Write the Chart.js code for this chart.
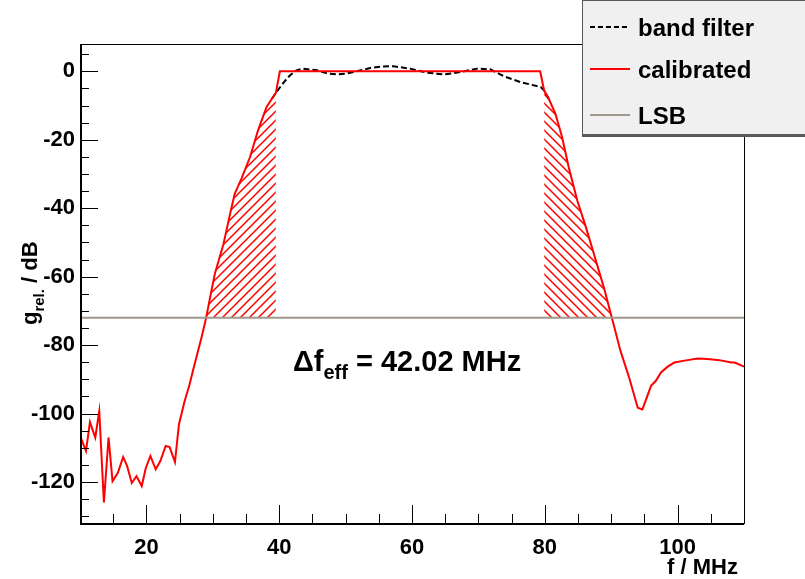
<!DOCTYPE html>
<html>
<head>
<meta charset="utf-8">
<script src="https://cdn.jsdelivr.net/npm/chart.js@4.4.0/dist/chart.umd.min.js"></script>
<style>
html, body { margin: 0; padding: 0; background: #fff; }
#wrap { width: 805px; height: 579px; position: relative; }
</style>
</head>
<body>
<div id="wrap"><canvas id="chart" width="805" height="579"></canvas></div>
<script>
// calibrated response (f / MHz, gain / dB)
const calFreq = [10.1, 10.9, 11.5, 12.3, 12.9, 13.6, 14.3, 14.9, 15.7, 16.5, 17.1, 17.8, 18.5, 19.3, 19.9,
    20.6, 21.4, 22.1, 22.9, 23.5, 24.3, 24.9, 25.7, 26.5, 27.0, 28.3, 29.0, 29.5, 30.3, 31.6, 32.6, 33.3,
    34.3, 35.6, 36.8, 38.1, 38.9, 39.5, 40.1, 79.3, 79.9, 80.6, 81.6, 82.6, 83.6, 84.9, 86.2, 87.4, 88.9,
    90.1, 91.4, 92.7, 94.0, 94.7, 96.0, 96.7, 97.5, 98.5, 99.5, 101.5, 103.0, 104.5, 106.3, 108.1, 108.6, 110];
const calGain = [-107, -111, -102.5, -107, -99.3, -126, -107, -119.8, -117.3, -112.7, -115.4, -120.3, -118.3, -121.2, -116,
    -112.4, -116.3, -113.9, -109.5, -109.8, -114.2, -103.2, -96.8, -91.5, -87.6, -77.8, -72, -67, -59.2, -50.5, -41.7, -35.8,
    -31.4, -25.1, -17.3, -10.4, -8, -6.3, 0, 0, -5.6, -8, -12.4, -19.2, -28, -37.8, -45.6, -53.4, -63.2,
    -72, -81.7, -89.5, -98.3, -98.8, -91.9, -90.5, -88, -86.3, -85.1, -84.4, -83.9, -84.1, -84.4, -85.1, -85.1, -86.3];

// band filter (passband ripple, elsewhere hidden under the calibrated curve)
const bandFreq = [38.9, 39.5, 40.6, 41.6, 42.6, 43.6, 45.7, 47.2, 48.7, 50.0, 51.2, 53.7, 55.5, 57.2, 59.7,
    62.3, 64.8, 67.3, 69.8, 71.8, 73.8, 76.3, 79.4, 79.9, 80.6];
const bandGain = [-8, -6.3, -3.4, -1.2, 0.3, 0.8, 0.3, -0.6, -0.9, -0.7, -0.2, 1.0, 1.4, 1.5, 0.8,
    -0.4, -0.9, -0.2, 0.8, 0.6, -1.4, -3.1, -4.6, -5.6, -8];

const lsbLevel = -72;
const hatchLeft = [29.0, 39.5];
const hatchRight = [79.9, 90.1];

const xTicks = [20, 40, 60, 80, 100];
const yTicks = [0, -20, -40, -60, -80, -100, -120];

const FONT = '"Liberation Sans", Arial, sans-serif';

function toPoints(xs, ys) {
    return xs.map((x, i) => ({ x: x, y: ys[i] }));
}

function hatchPoints(range) {
    return toPoints(calFreq, calGain).filter(p => p.x >= range[0] && p.x <= range[1]);
}

// diagonal hatch pattern, dir 1 = "/", -1 = "\"
function makeHatch(dir) {
    const s = 9;
    const c = document.createElement('canvas');
    c.width = s; c.height = s;
    const g = c.getContext('2d');
    g.strokeStyle = 'rgb(255,0,0)';
    g.lineWidth = 1.5;
    g.beginPath();
    for (let k = -1; k <= 1; k++) {
        if (dir > 0) {
            g.moveTo(k * s - 1, s + 1); g.lineTo(k * s + s + 1, -1);
        } else {
            g.moveTo(k * s - 1, -1); g.lineTo(k * s + s + 1, s + 1);
        }
    }
    g.stroke();
    return g.createPattern(c, 'repeat');
}

// ROOT-like frame, inner ticks, titles and legend
const rootDecor = {
    id: 'rootDecor',
    afterDatasetsDraw(chart) {
        const ctx = chart.ctx;
        const a = chart.chartArea;
        const xs = chart.scales.x, ys = chart.scales.y;
        ctx.save();
        ctx.strokeStyle = '#000';
        ctx.lineWidth = 1;
        ctx.strokeRect(a.left + 0.5, a.top + 0.5, a.right - a.left, a.bottom - a.top);
        ctx.lineWidth = 2;
        ctx.beginPath();
        ctx.moveTo(a.left + 1, a.top); ctx.lineTo(a.left + 1, a.bottom + 1);
        ctx.lineTo(a.right, a.bottom + 1);
        ctx.stroke();
        ctx.lineWidth = 1;
        ctx.beginPath();
        for (let v = -130; v <= 5; v += 5) {
            const y = Math.round(ys.getPixelForValue(v)) + 0.5;
            const len = v % 20 === 0 ? 18 : 9;
            ctx.moveTo(a.left, y); ctx.lineTo(a.left + len, y);
        }
        for (let v = 10; v <= 110; v += 5) {
            const x = Math.round(xs.getPixelForValue(v)) + 0.5;
            const len = v % 20 === 0 ? 18 : 9;
            ctx.moveTo(x, a.bottom); ctx.lineTo(x, a.bottom - len);
        }
        ctx.stroke();
        ctx.restore();
    },
    afterDraw(chart) {
        const ctx = chart.ctx;
        ctx.save();
        ctx.fillStyle = '#000';

        // x title
        ctx.font = 'bold 22px ' + FONT;
        ctx.textAlign = 'right';
        ctx.textBaseline = 'alphabetic';
        ctx.fillText('f / MHz', 738, 574);

        // y title (rotated)
        ctx.save();
        ctx.translate(37, 325);
        ctx.rotate(-Math.PI / 2);
        ctx.textAlign = 'left';
        ctx.font = 'bold 22px ' + FONT;
        ctx.fillText('g', 0, 0);
        let w = ctx.measureText('g').width;
        ctx.font = 'bold 15px ' + FONT;
        ctx.fillText('rel.', w, 7);
        w += ctx.measureText('rel.').width;
        ctx.font = 'bold 22px ' + FONT;
        ctx.fillText(' / dB', w, 0);
        ctx.restore();

        // annotation
        ctx.textAlign = 'left';
        ctx.font = 'bold 29px ' + FONT;
        let x = 293;
        const base = 371;
        ctx.fillText('\u0394f', x, base);
        x += ctx.measureText('\u0394f').width;
        ctx.font = 'bold 20px ' + FONT;
        ctx.fillText('eff', x, base + 8);
        x += ctx.measureText('eff').width;
        ctx.font = 'bold 29px ' + FONT;
        ctx.fillText(' = 42.02 MHz', x, base);

        // legend box
        ctx.fillStyle = '#5a5a5a';
        ctx.fillRect(582, 0, 223, 137);
        ctx.fillStyle = '#f0f0f0';
        ctx.fillRect(583, 1, 222, 133);
        const entries = [
            { label: 'band filter', color: '#000', dash: [5, 3], y: 27 },
            { label: 'calibrated', color: 'rgb(255,0,0)', dash: [], y: 69 },
            { label: 'LSB', color: 'rgb(160,152,140)', dash: [], y: 115 }
        ];
        entries.forEach(e => {
            ctx.strokeStyle = e.color;
            ctx.lineWidth = 2;
            ctx.setLineDash(e.dash);
            ctx.beginPath();
            ctx.moveTo(590, e.y); ctx.lineTo(630, e.y);
            ctx.stroke();
            ctx.setLineDash([]);
            ctx.fillStyle = '#000';
            ctx.font = 'bold 24px ' + FONT;
            ctx.textBaseline = 'middle';
            ctx.fillText(e.label, 638, e.y + 2);
        });
        ctx.restore();
    }
};

const chart = new Chart(document.getElementById('chart'), {
    type: 'line',
    data: {
        datasets: [
            {
                label: 'LSB',
                data: [{ x: 10, y: lsbLevel }, { x: 110, y: lsbLevel }],
                borderColor: 'rgb(160,152,140)',
                borderWidth: 2,
                pointRadius: 0,
                order: 0
            },
            {
                label: 'calibrated',
                data: toPoints(calFreq, calGain),
                borderColor: 'rgb(255,0,0)',
                borderWidth: 2,
                pointRadius: 0,
                tension: 0,
                order: 1
            },
            {
                label: 'band filter',
                data: toPoints(bandFreq, bandGain),
                borderColor: '#000',
                borderWidth: 2,
                borderDash: [6, 3],
                pointRadius: 0,
                tension: 0,
                order: 2
            },
            {
                label: 'hatch left',
                data: hatchPoints(hatchLeft),
                borderWidth: 0,
                borderColor: 'rgba(255,0,0,0)',
                backgroundColor: makeHatch(1),
                fill: { value: lsbLevel },
                pointRadius: 0,
                order: 3
            },
            {
                label: 'hatch right',
                data: hatchPoints(hatchRight),
                borderWidth: 0,
                borderColor: 'rgba(255,0,0,0)',
                backgroundColor: makeHatch(-1),
                fill: { value: lsbLevel },
                pointRadius: 0,
                order: 3
            }
        ]
    },
    options: {
        responsive: false,
        animation: false,
        layout: { padding: { top: 44, right: 61, left: 0, bottom: 0 } },
        plugins: {
            legend: { display: false },
            tooltip: { enabled: false }
        },
        scales: {
            x: {
                type: 'linear',
                min: 10,
                max: 110,
                grid: { display: false, drawTicks: false },
                border: { display: false },
                afterBuildTicks: s => { s.ticks = xTicks.map(v => ({ value: v })); },
                afterFit: s => { s.height = 56; },
                ticks: {
                    padding: 12,
                    color: '#000',
                    maxRotation: 0,
                    font: { family: FONT, size: 22, weight: 'bold' }
                }
            },
            y: {
                type: 'linear',
                min: -132,
                max: 8,
                grid: { display: false, drawTicks: false },
                border: { display: false },
                afterBuildTicks: s => { s.ticks = yTicks.map(v => ({ value: v })); },
                afterFit: s => { s.width = 80; },
                ticks: {
                    padding: 5,
                    color: '#000',
                    font: { family: FONT, size: 22, weight: 'bold' }
                }
            }
        }
    },
    plugins: [rootDecor]
});
</script>
</body>
</html>
